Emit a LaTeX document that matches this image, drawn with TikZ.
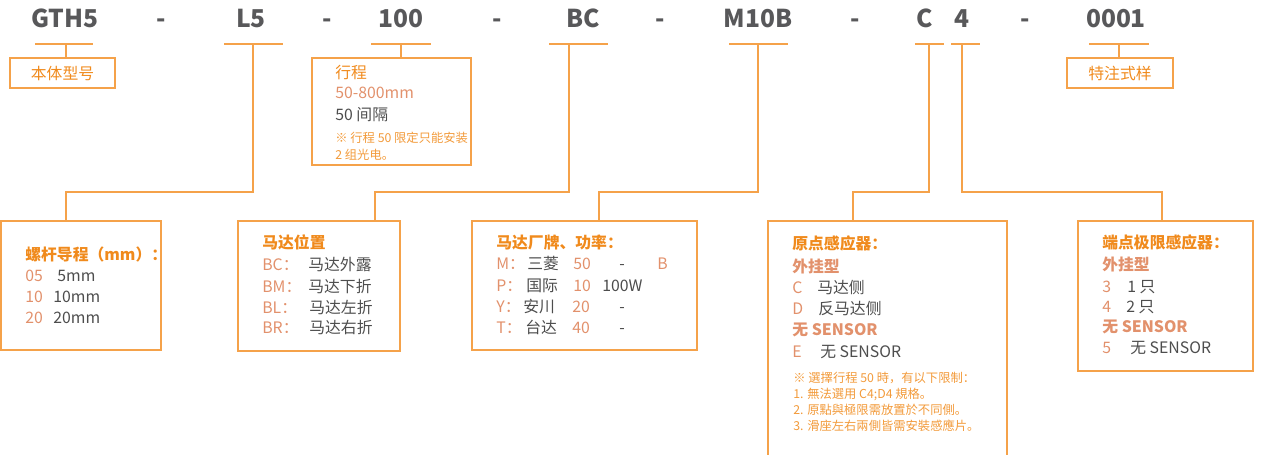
\documentclass[tikz,border=0pt]{standalone}
\usepackage{fontspec}
\setmainfont{Noto Sans CJK SC}
\usetikzlibrary{calc}
\definecolor{lineor}{HTML}{F5A24A}
\definecolor{titleor}{HTML}{F08A1C}
\definecolor{codeor}{HTML}{E2916C}
\definecolor{txtgray}{HTML}{4D4D4D}
\definecolor{pngray}{HTML}{58585A}
\definecolor{noteor}{HTML}{F29A3A}

\begin{document}
\begin{tikzpicture}[x=0.02cm, y=-0.02cm,
    link/.style={draw=lineor, line width=0.8pt},
    box/.style={draw=lineor, line width=0.8pt, inner sep=0},
    pn/.style={anchor=base, inner sep=0, text=pngray, font=\fontsize{14}{16}\selectfont\bfseries},
    txt/.style={anchor=west, inner sep=0, text height=7.9pt, text depth=1.1pt, text=txtgray, font=\fontsize{9}{11}\selectfont},
    code/.style={txt, text=codeor},
    ttl/.style={txt, text=titleor, font=\fontsize{9}{11}\selectfont\bfseries},
    sub/.style={txt, text=codeor, font=\fontsize{9}{11}\selectfont\bfseries},
    note/.style={anchor=west, inner sep=0, text height=6.2pt, text depth=0.8pt, text=noteor, font=\fontsize{7}{8}\selectfont}]
    \useasboundingbox (0,0) rectangle (1265,454);

    % Part number
    \node[pn] (gth) at (65,27) {GTH5};
    \node[pn] (d1) at (161,27) {-};
    \node[pn] (lead) at (251,27) {L5};
    \node[pn] (d2) at (327,27) {-};
    \node[pn] (len) at (401,27) {100};
    \node[pn] (d3) at (497,27) {-};
    \node[pn] (pos) at (583,27) {BC};
    \node[pn] (d4) at (660,27) {-};
    \node[pn] (mtr) at (758,27) {M10B};
    \node[pn] (d5) at (855,27) {-};
    \node[pn] (org) at (925,27) {C};
    \node[pn] (lim) at (962,27) {4};
    \node[pn] (d6) at (1025,27) {-};
    \node[pn] (spc) at (1116,27) {0001};

    % Underlines
    \draw[link] (35,44) -- (93,44);
    \draw[link] (224,44) -- (283,44);
    \draw[link] (371,44) -- (431,44);
    \draw[link] (549,44) -- (608,44);
    \draw[link] (729,44) -- (788,44);
    \draw[link] (915,44) -- (944,44);
    \draw[link] (951,44) -- (980,44);
    \draw[link] (1089,44) -- (1149,44);
    \coordinate (s1) at (66,44);
    \coordinate (s2) at (253,44);
    \coordinate (s3) at (401,44);
    \coordinate (s4) at (569,44);
    \coordinate (s5) at (758,44);
    \coordinate (s6) at (929,44);
    \coordinate (s7) at (962,44);
    \coordinate (s8) at (1119,44);

    % Boxes
    \node[box, minimum width=2.1cm, minimum height=0.6cm, text=titleor, font=\fontsize{9}{11}\selectfont] (typebox) at (62.5,73) {本体型号};
    \node[box, minimum width=2.12cm, minimum height=0.6cm, text=titleor, font=\fontsize{9}{11}\selectfont] (specbox) at (1120,73) {特注式样};
    \node[box, minimum width=3.18cm, minimum height=2.14cm] (strokebox) at (391.5,111.5) {};
    \node[box, minimum width=3.2cm, minimum height=2.58cm] (leadbox) at (81,285.5) {};
    \node[box, minimum width=3.24cm, minimum height=2.6cm] (posbox) at (319,286) {};
    \node[box, minimum width=4.5cm, minimum height=2.58cm] (brandbox) at (584.5,285.5) {};
    \node[box, minimum width=4.78cm, minimum height=4.98cm] (orgbox) at (887.5,345.5) {};
    \node[box, minimum width=3.5cm, minimum height=3cm] (limbox) at (1165.5,296) {};

    % Connectors
    \coordinate (k2) at (66,192);
    \coordinate (k4) at (375,192);
    \coordinate (k5) at (599,192);
    \coordinate (k6) at (853,192);
    \coordinate (k7) at (1162,192);
    \draw[link] (s1) -- (s1 |- typebox.north);
    \draw[link] (s3) -- (s3 |- strokebox.north);
    \draw[link] (s8) -- (s8 |- specbox.north);
    \draw[link] (s2) |- (k2) -- (k2 |- leadbox.north);
    \draw[link] (s4) |- (k4) -- (k4 |- posbox.north);
    \draw[link] (s5) |- (k5) -- (k5 |- brandbox.north);
    \draw[link] (s6) |- (k6) -- (k6 |- orgbox.north);
    \draw[link] (s7) |- (k7) -- (k7 |- limbox.north);

    % Stroke
    \node[txt, text=titleor] (st0) at (335,73) {行程};
    \node[code] (st1) at (335,93) {50-800mm};
    \node[txt] (st2) at (335,115) {50 间隔};
    \node[note] (st3) at (335,138) {※ 行程 50 限定只能安装};
    \node[note] (st4) at (335,155) {2 组光电。};

    % Screw lead
    \node[ttl] (ld0) at (25,255) {螺杆导程（mm）：};
    \node[code] (ld1c) at (25,276) {05};
    \node[txt] (ld1) at (57,276) {5mm};
    \node[code] (ld2c) at (25,297) {10};
    \node[txt] (ld2) at (53,297) {10mm};
    \node[code] (ld3c) at (25,318) {20};
    \node[txt] (ld3) at (53,318) {20mm};

    % Motor position
    \node[ttl] (mp0) at (262,243) {马达位置};
    \node[code] (mp1c) at (262,265) {BC：};
    \node[txt] (mp1) at (308,265) {马达外露};
    \node[code] (mp2c) at (262,287) {BM：};
    \node[txt] (mp2) at (308,287) {马达下折};
    \node[code] (mp3c) at (262,308) {BL：};
    \node[txt] (mp3) at (309,308) {马达左折};
    \node[code] (mp4c) at (262,328) {BR：};
    \node[txt] (mp4) at (309,328) {马达右折};

    % Motor brand, power
    \node[ttl] (br0) at (496,243) {马达厂牌、功率：};
    \node[code] (br1c) at (496,264) {M：};
    \node[txt] (br1) at (527,264) {三菱};
    \node[code] (br1p) at (573,264) {50};
    \node[txt] (br1d) at (619,264) {-};
    \node[code] (br1b) at (657,264) {B};
    \node[code] (br2c) at (496,286) {P：};
    \node[txt] (br2) at (526,286) {国际};
    \node[code] (br2p) at (573,286) {10};
    \node[txt] (br2w) at (602,286) {100W};
    \node[code] (br3c) at (496,307) {Y：};
    \node[txt] (br3) at (523,307) {安川};
    \node[code] (br3p) at (572,307) {20};
    \node[txt] (br3d) at (619,307) {-};
    \node[code] (br4c) at (496,328) {T：};
    \node[txt] (br4) at (525,328) {台达};
    \node[code] (br4p) at (572,328) {40};
    \node[txt] (br4d) at (619,328) {-};

    % Origin sensor
    \node[ttl] (or0) at (792,244) {原点感应器：};
    \node[sub] (or1) at (792,267) {外挂型};
    \node[code] (or2c) at (792,288) {C};
    \node[txt] (or2) at (817,288) {马达侧};
    \node[code] (or3c) at (792,309) {D};
    \node[txt] (or3) at (818,309) {反马达侧};
    \node[sub] (or4) at (792,330) {无 SENSOR};
    \node[code] (or5c) at (792,352) {E};
    \node[txt] (or5) at (820,352) {无 SENSOR};
    \node[note] (on1) at (793,378) {※ 選擇行程 50 時，有以下限制：};
    \node[note] (on2) at (793,394) {1. 無法選用 C4;D4 規格。};
    \node[note] (on3) at (793,410) {2. 原點與極限需放置於不同側。};
    \node[note] (on4) at (793,426) {3. 滑座左右兩側皆需安裝感應片。};

    % Limit sensor
    \node[ttl] (lm0) at (1102,243) {端点极限感应器：};
    \node[sub] (lm1) at (1102,265) {外挂型};
    \node[code] (lm2c) at (1102,287) {3};
    \node[txt] (lm2) at (1127,287) {1 只};
    \node[code] (lm3c) at (1102,307) {4};
    \node[txt] (lm3) at (1126,307) {2 只};
    \node[sub] (lm4) at (1102,327) {无 SENSOR};
    \node[code] (lm5c) at (1102,348) {5};
    \node[txt] (lm5) at (1130,348) {无 SENSOR};
\end{tikzpicture}
\end{document}
